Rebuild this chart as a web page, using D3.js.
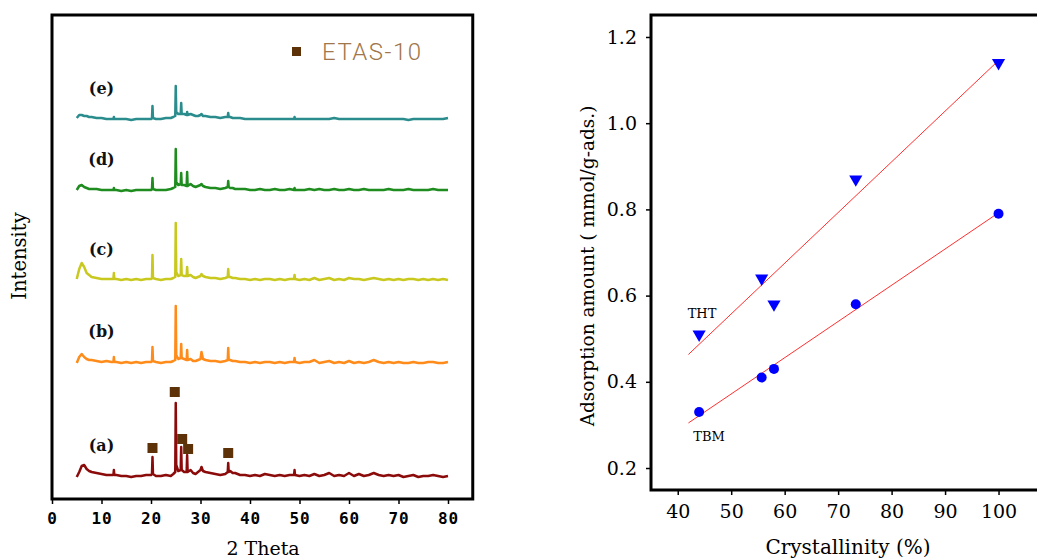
<!DOCTYPE html>
<html>
<head>
<meta charset="utf-8">
<script src="https://cdn.jsdelivr.net/npm/d3@7"></script>
<style>
  body { margin: 0; background: #fff; }
  svg { display: block; }
</style>
</head>
<body>
<div id="chart"></div>
<script>
// ---- XRD panel data ----
const twoTheta = [
  5, 5.5, 6, 6.5, 7, 7.5, 8,
  9, 10, 11, 12, 12.4, 12.5, 12.6,
  13, 14, 15, 16, 17, 18, 19, 20,
  20.2, 20.3, 20.4, 21, 22, 23, 24,
  24.5, 24.9, 25.0, 25.1, 25.5, 26.0, 26.1, 26.2, 26.7,
  27.2, 27.3, 27.4, 28, 28.5, 29, 29.5, 30.0, 30.2, 30.5,
  31, 32, 33, 34, 35, 35.5, 35.6, 35.7, 36, 36.5, 37,
  38, 39, 40, 41, 42, 43, 44, 45, 46, 47, 48, 48.9, 49, 49.1,
  50, 51, 52, 53, 54, 55, 56, 57, 58, 59, 60, 61, 62, 63, 64, 65,
  66, 67, 68, 69, 70, 71, 72, 73, 74, 75, 76, 77, 78, 79, 80
]
const traceA = [
  0, 5, 11, 12, 8, 6, 5,
  4, 3, 2, 2, 2, 7, 2,
  2, 1, 1, 0, 1, 1, 2, 2,
  3, 20, 3, 1, 1, 2, 1,
  3, 5, 74, 12, 6, 7, 30, 7, 5,
  5, 22, 5, 7, 4, 3, 5, 7, 10, 6,
  5, 4, 3, 2, 3, 5, 14, 5, 6, 4, 4,
  2, 2, 1, 2, 1, 3, 2, 1, 2, 1, 2, 2, 7, 2,
  1, 2, 1, 3, 1, 2, 4, 1, 2, 1, 4, 1, 3, 1, 2, 4,
  2, 1, 2, 1, 2, 0, 1, 2, 0, 1, 1, 2, 1, 0, 1
]
const traceB = [
  0, 6, 9, 6, 4, 3, 3,
  2, 1, 2, 1, 1, 6, 1,
  1, 0, 1, 0, 1, 0, 1, 1,
  2, 16, 2, 1, 0, 1, 1,
  2, 3, 57, 8, 4, 5, 19, 5, 4,
  3, 13, 3, 4, 2, 2, 3, 4, 11, 4,
  3, 2, 2, 1, 2, 3, 15, 3, 3, 2, 2,
  1, 1, 0, 1, 0, 1, 1, 0, 1, 0, 1, 1, 5, 1,
  0, 1, 1, 3, 0, 1, 2, 0, 1, 0, 2, 0, 1, 0, 1, 3,
  1, 0, 1, 0, 1, 0, 0, 1, 0, 0, 1, 1, 0, 0, 1
]
const traceC = [
  2, 12, 18, 14, 8, 6, 4,
  3, 2, 2, 2, 2, 8, 2,
  2, 1, 2, 1, 2, 1, 2, 2,
  3, 26, 3, 2, 1, 2, 2,
  3, 4, 58, 9, 5, 6, 22, 6, 5,
  5, 14, 5, 6, 4, 3, 4, 5, 7, 5,
  4, 3, 3, 2, 3, 4, 12, 4, 4, 3, 3,
  2, 2, 1, 2, 1, 2, 2, 1, 2, 1, 2, 2, 6, 2,
  1, 2, 1, 3, 1, 2, 3, 1, 2, 1, 3, 2, 2, 1, 2, 3,
  2, 1, 2, 1, 2, 1, 2, 2, 1, 2, 1, 2, 1, 2, 1
]
const traceD = [
  1, 5, 6, 4, 3, 2, 2,
  2, 1, 1, 1, 1, 3, 1,
  1, 0, 1, 0, 1, 1, 1, 1,
  2, 13, 2, 1, 1, 1, 2,
  3, 4, 42, 9, 6, 7, 18, 6, 6,
  5, 19, 5, 7, 5, 4, 5, 6, 7, 5,
  4, 3, 3, 2, 3, 4, 10, 4, 3, 3, 2,
  2, 2, 1, 1, 2, 1, 1, 2, 1, 1, 2, 1, 3, 1,
  1, 1, 2, 1, 2, 1, 1, 2, 1, 1, 2, 1, 1, 2, 1, 1,
  1, 1, 2, 1, 1, 1, 2, 1, 1, 1, 1, 2, 1, 1, 1
]
const traceE = [
  2, 5, 5, 4, 4, 3, 3,
  2, 2, 1, 1, 1, 3, 1,
  1, 1, 1, 0, 1, 1, 1, 1,
  2, 14, 2, 1, 1, 2, 2,
  3, 4, 34, 8, 6, 6, 17, 6, 6,
  5, 8, 5, 6, 5, 4, 4, 5, 6, 4,
  4, 3, 3, 2, 3, 3, 7, 3, 3, 2, 2,
  2, 1, 1, 1, 1, 1, 1, 1, 1, 1, 1, 1, 3, 1,
  1, 1, 1, 1, 1, 1, 1, 2, 1, 1, 1, 1, 1, 1, 1, 1,
  1, 1, 1, 1, 1, 1, 0, 1, 1, 1, 1, 1, 1, 1, 2
]
const traceLabels = ["(a)", "(b)", "(c)", "(d)", "(e)"]
const traceOffsets = [22, 136, 218, 308, 379]
const traceColors = ["#8b0a0a", "#ff8c1a", "#c8c81e", "#1e8c1e", "#2a8c8c"]
const etasPeaks = [20.3, 24.8, 26.3, 27.5, 35.6]
const etasHeights = [29, 85, 38, 28, 24]
const xrdTicks = [0, 10, 20, 30, 40, 50, 60, 70, 80]

// ---- adsorption panel data ----
const crystallinity = [44, 55.7, 58, 73.3, 100]
const thtAmount = [0.51, 0.64, 0.58, 0.87, 1.14]
const tbmAmount = [0.33, 0.41, 0.43, 0.58, 0.79]
const crystTicks = [40, 50, 60, 70, 80, 90, 100]
const amountTicks = [0.2, 0.4, 0.6, 0.8, 1.0, 1.2]

const width = 1037
const height = 558
const serif = "'DejaVu Serif', 'Liberation Serif', serif"
const svg = d3.select("#chart").append("svg")
    .attr("width", width)
    .attr("height", height)

svg.append("rect").attr("width", width).attr("height", height).attr("fill", "#fff")

// ================= left panel =================
var x1 = d3.scaleLinear().domain([0, 85]).range([52, 472.75])
var y1 = d3.scaleLinear().domain([0, 484]).range([499, 15])

var left = svg.append("g")

const traces = [traceA, traceB, traceC, traceD, traceE]
var line1 = d3.line()
    .x(d => x1(d[0]))
    .y(d => y1(d[1]))

traces.forEach((t, i) => {
    var pts = twoTheta.map((tt, k) => [tt, traceOffsets[i] + t[k]])
    left.append("path")
        .attr("d", line1(pts))
        .attr("fill", "none")
        .attr("stroke", traceColors[i])
        .attr("stroke-width", 2.5)
        .attr("stroke-linejoin", "round")
    left.append("text")
        .text(traceLabels[i])
        .attr("x", x1(10))
        .attr("y", y1(traceOffsets[i] + 31))
        .attr("text-anchor", "middle")
        .attr("dominant-baseline", "middle")
        .attr("font-family", serif)
        .attr("font-weight", "bold")
        .attr("font-size", "16px")
        .attr("fill", "#111")
})

// ETAS-10 markers on trace (a)
etasPeaks.forEach((p, i) => {
    left.append("rect")
        .attr("x", x1(p) - 5)
        .attr("y", y1(traceOffsets[0] + etasHeights[i]) - 5)
        .attr("width", 10)
        .attr("height", 10)
        .attr("fill", "#5e3208")
})

// legend
left.append("rect")
    .attr("x", 292).attr("y", 47)
    .attr("width", 9).attr("height", 9)
    .attr("fill", "#5e3208")
left.append("text")
    .text("ETAS-10")
    .attr("x", 322).attr("y", 60)
    .attr("font-family", "Roboto, sans-serif")
    .attr("font-weight", 300)
    .attr("font-size", "24px")
    .attr("letter-spacing", "1.5px")
    .attr("fill", "#a0764a")

// frame
left.append("rect")
    .attr("x", x1(0)).attr("y", y1(484))
    .attr("width", x1(85) - x1(0))
    .attr("height", y1(0) - y1(484))
    .attr("fill", "none")
    .attr("stroke", "#000")
    .attr("stroke-width", 3)

var xAxis1 = left.append("g")
    .attr("transform", "translate(0," + y1(0) + ")")
    .call(d3.axisBottom(x1).tickValues(xrdTicks).tickSize(5).tickPadding(9))
xAxis1.select(".domain").remove()
xAxis1.selectAll("line").attr("stroke", "#000").attr("stroke-width", 1.5)
xAxis1.selectAll("text")
    .attr("font-family", "'DejaVu Sans Mono', monospace")
    .attr("font-weight", "bold")
    .attr("font-size", "16px")
    .attr("letter-spacing", "1px")
    .attr("fill", "#000")

left.append("text")
    .text("2 Theta")
    .attr("x", 263).attr("y", 555)
    .attr("text-anchor", "middle")
    .attr("font-family", serif)
    .attr("font-size", "19px")
left.append("text")
    .text("Intensity")
    .attr("transform", "translate(26,256) rotate(-90)")
    .attr("text-anchor", "middle")
    .attr("font-family", serif)
    .attr("font-size", "19.5px")

// ================= right panel =================
var x2 = d3.scaleLinear().domain([35, 110]).range([651, 1052])
var y2 = d3.scaleLinear().domain([0.149, 1.251]).range([490, 15])

var right = svg.append("g")

var fit = (xs, ys) => {
    var mx = d3.mean(xs), my = d3.mean(ys)
    var sxy = d3.sum(xs, (v, i) => (v - mx) * (ys[i] - my))
    var sxx = d3.sum(xs, v => (v - mx) * (v - mx))
    var b = sxy / sxx
    return v => my + b * (v - mx)
}
var fitTht = fit(crystallinity, thtAmount)
var fitTbm = fit(crystallinity, tbmAmount)
;[fitTht, fitTbm].forEach(f => {
    right.append("line")
        .attr("x1", x2(42)).attr("y1", y2(f(42)))
        .attr("x2", x2(100)).attr("y2", y2(f(100)))
        .attr("stroke", "#ff3030")
        .attr("stroke-width", 1)
})

var tri = d3.symbol().type(d3.symbolTriangle).size(75)
crystallinity.forEach((c, i) => {
    right.append("path")
        .attr("d", tri())
        .attr("transform", "translate(" + x2(c) + "," + y2(thtAmount[i]) + ") rotate(180)")
        .attr("fill", "#0000ff")
    right.append("circle")
        .attr("cx", x2(c)).attr("cy", y2(tbmAmount[i]))
        .attr("r", 5)
        .attr("fill", "#0000ff")
})

right.append("text").text("THT")
    .attr("x", 702).attr("y", 318)
    .attr("text-anchor", "middle")
    .attr("font-family", serif)
    .attr("font-size", "13px")
right.append("text").text("TBM")
    .attr("x", 709).attr("y", 441)
    .attr("text-anchor", "middle")
    .attr("font-family", serif)
    .attr("font-size", "13px")

var xAxis2 = right.append("g")
    .attr("transform", "translate(0," + y2.range()[0] + ")")
    .call(d3.axisBottom(x2).tickValues(crystTicks).tickSize(5).tickPadding(10))
var yAxis2 = right.append("g")
    .attr("transform", "translate(" + x2.range()[0] + ",0)")
    .call(d3.axisLeft(y2).tickValues(amountTicks).tickFormat(d3.format(".1f")).tickSize(5).tickPadding(9))
;[xAxis2, yAxis2].forEach(a => {
    a.select(".domain").remove()
    a.selectAll("line").attr("stroke", "#000").attr("stroke-width", 1.5)
    a.selectAll("text")
        .attr("font-family", serif)
        .attr("font-size", "19px")
        .attr("fill", "#000")
})

// spines: left, bottom, top
right.append("path")
    .attr("d", "M" + x2(110) + "," + y2(1.251) + "H" + x2(35) + "V" + y2(0.149) + "H" + x2(110))
    .attr("fill", "none")
    .attr("stroke", "#000")
    .attr("stroke-width", 3)

right.append("text")
    .text("Crystallinity (%)")
    .attr("x", 848).attr("y", 554)
    .attr("text-anchor", "middle")
    .attr("font-family", serif)
    .attr("font-size", "20px")
right.append("text")
    .text("Adsorption amount ( mmol/g-ads.)")
    .attr("transform", "translate(594,266) rotate(-90)")
    .attr("text-anchor", "middle")
    .attr("font-family", serif)
    .attr("font-size", "18.5px")
</script>
</body>
</html>
